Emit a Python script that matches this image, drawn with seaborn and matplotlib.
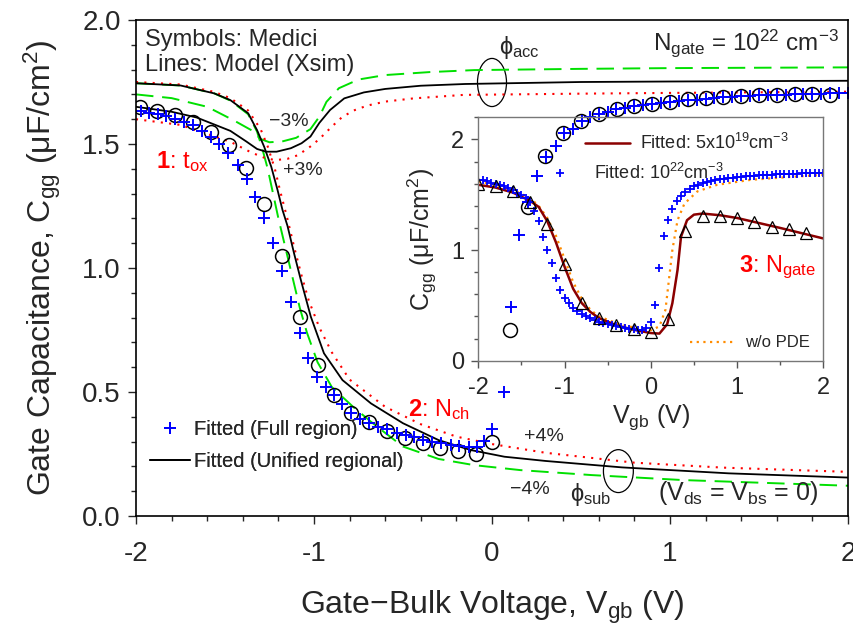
import numpy as np
import pandas as pd
import matplotlib
matplotlib.use("Agg")
import matplotlib.pyplot as plt
from matplotlib.lines import Line2D
from matplotlib.patches import Ellipse
from matplotlib.ticker import MultipleLocator, FormatStrFormatter
import seaborn as sns

# ---------------- main plot data ----------------
# Medici symbols (circles)
circ_x = [-1.98, -1.88, -1.78, -1.68, -1.58, -1.48, -1.38, -1.28, -1.18, -1.08, -0.98,
          -0.89, -0.79, -0.69, -0.59, -0.49, -0.39, -0.29, -0.19, -0.09, 0.00,
          0.10, 0.20, 0.30, 0.40, 0.50, 0.60, 0.70, 0.80, 0.90, 1.00,
          1.10, 1.20, 1.30, 1.40, 1.50, 1.60, 1.70, 1.80, 1.90]
circ_y = [1.651, 1.634, 1.617, 1.590, 1.550, 1.496, 1.402, 1.258, 1.050, 0.801, 0.609,
          0.488, 0.417, 0.380, 0.344, 0.313, 0.296, 0.273, 0.263, 0.250, 0.300,
          0.750, 1.247, 1.452, 1.543, 1.591, 1.621, 1.641, 1.652, 1.663, 1.668,
          1.680, 1.684, 1.688, 1.692, 1.696, 1.698, 1.700, 1.700, 1.698]

# Fitted (Full region) pluses
plus_x = [-1.97, -1.925, -1.878, -1.832, -1.781, -1.729, -1.682, -1.631, -1.579, -1.533,
          -1.482, -1.429, -1.379, -1.331, -1.280, -1.230, -1.181, -1.130, -1.080, -1.031,
          -0.985, -0.934, -0.887, -0.840, -0.794, -0.742, -0.691, -0.641, -0.588, -0.536,
          -0.485, -0.439, -0.386, -0.335, -0.285, -0.233, -0.186, -0.130, -0.083, -0.046,
          0.001, 0.065, 0.104, 0.154, 0.205, 0.255, 0.305, 0.360, 0.407, 0.456,
          0.504, 0.553, 0.601, 0.650, 0.698, 0.75, 0.80, 0.85, 0.90, 0.95,
          1.00, 1.05, 1.10, 1.15, 1.20, 1.25, 1.30, 1.35, 1.40, 1.45,
          1.50, 1.55, 1.60, 1.65, 1.70, 1.75, 1.80, 1.85, 1.90, 1.95, 2.00]
plus_y = [1.634, 1.626, 1.621, 1.613, 1.600, 1.590, 1.577, 1.554, 1.527, 1.499,
          1.462, 1.415, 1.358, 1.285, 1.200, 1.100, 0.988, 0.864, 0.737, 0.638,
          0.562, 0.521, 0.488, 0.452, 0.417, 0.390, 0.374, 0.360, 0.350, 0.336,
          0.327, 0.318, 0.307, 0.300, 0.293, 0.286, 0.282, 0.279, 0.279, 0.303,
          0.349, 0.500, 0.843, 1.133, 1.267, 1.371, 1.449, 1.493, 1.543, 1.559,
          1.591, 1.608, 1.621, 1.630, 1.641, 1.646, 1.652, 1.657, 1.662, 1.665,
          1.668, 1.672, 1.676, 1.679, 1.682, 1.685, 1.688, 1.690, 1.692, 1.694,
          1.696, 1.697, 1.698, 1.699, 1.700, 1.701, 1.702, 1.703, 1.704, 1.705, 1.706]

# Model lines, t_ox family (upper curves)
tox_m3_x = [-2.0, -1.8, -1.6, -1.45, -1.35, -1.3, -1.25, -1.18, -1.1, -1.02, -0.97, -0.93,
            -0.86, -0.75, -0.6, -0.35, -0.1, 0.5, 1.0, 2.0]
tox_m3_y = [1.70, 1.685, 1.65, 1.595, 1.555, 1.52, 1.507, 1.51, 1.525, 1.56, 1.61, 1.67,
            1.725, 1.76, 1.778, 1.79, 1.798, 1.803, 1.806, 1.809]
tox_0_x = [-2.0, -1.8, -1.66, -1.47, -1.38, -1.32, -1.27, -1.21, -1.13, -1.07, -1.02, -0.97,
           -0.91, -0.83, -0.72, -0.6, -0.4, -0.15, 0.5, 1.0, 2.0]
tox_0_y = [1.65, 1.63, 1.607, 1.553, 1.51, 1.48, 1.469, 1.469, 1.483, 1.503, 1.53, 1.585,
           1.637, 1.684, 1.708, 1.722, 1.735, 1.742, 1.75, 1.752, 1.755]
tox_p3_x = [-2.0, -1.75, -1.47, -1.35, -1.28, -1.22, -1.15, -1.09, -1.02, -0.97, -0.9,
            -0.84, -0.77, -0.7, -0.6, -0.44, -0.16, 0.5, 1.0, 2.0]
tox_p3_y = [1.60, 1.577, 1.509, 1.465, 1.445, 1.435, 1.44, 1.455, 1.49, 1.52, 1.57,
            1.61, 1.637, 1.655, 1.671, 1.684, 1.698, 1.703, 1.706, 1.711]

# Model lines, N_ch family (lower curves)
nch_0_x = [-2.0, -1.75, -1.56, -1.47, -1.37, -1.32, -1.28, -1.24, -1.205, -1.177, -1.149,
           -1.112, -1.074, -1.018, -0.944, -0.84, -0.68, -0.5, -0.3, -0.12, 0.07, 0.3,
           0.73, 1.33, 2.0]
nch_0_y = [1.745, 1.736, 1.704, 1.677, 1.624, 1.556, 1.489, 1.408, 1.315, 1.234, 1.17,
           1.059, 0.952, 0.804, 0.656, 0.548, 0.454, 0.374, 0.306, 0.266, 0.239, 0.222,
           0.196, 0.172, 0.155]
nch_m4_x = [-2.0, -1.75, -1.56, -1.47, -1.37, -1.32, -1.29, -1.26, -1.23, -1.2, -1.16,
            -1.12, -1.08, -1.04, -0.98, -0.9, -0.78, -0.68, -0.6, -0.5, -0.3, -0.1,
            0.16, 0.56, 1.07, 2.0]
nch_m4_y = [1.745, 1.736, 1.704, 1.675, 1.62, 1.55, 1.48, 1.40, 1.30, 1.20, 1.08,
            0.96, 0.84, 0.74, 0.62, 0.52, 0.44, 0.38, 0.335, 0.28, 0.23, 0.205,
            0.185, 0.165, 0.145, 0.122]
nch_p4_x = [-2.0, -1.75, -1.56, -1.47, -1.37, -1.3, -1.26, -1.22, -1.19, -1.15, -1.11,
            -1.07, -1.03, -0.97, -0.9, -0.8, -0.6, -0.4, -0.2, 0.0, 0.3, 0.8, 1.3, 2.0]
nch_p4_y = [1.75, 1.74, 1.71, 1.685, 1.635, 1.56, 1.49, 1.40, 1.31, 1.20, 1.08,
            0.97, 0.87, 0.76, 0.66, 0.55, 0.44, 0.37, 0.32, 0.29, 0.255, 0.215, 0.195, 0.178]

# ---------------- inset data ----------------
tri_x = [-2.0, -1.8, -1.6, -1.4, -1.2, -1.0, -0.8, -0.6, -0.4, -0.2,
         0.0, 0.2, 0.4, 0.6, 0.8, 1.0, 1.2, 1.4, 1.6, 1.8]
tri_y = [1.60, 1.575, 1.53, 1.43, 1.24, 0.87, 0.52, 0.385, 0.32, 0.285,
         0.255, 0.375, 1.17, 1.31, 1.31, 1.29, 1.25, 1.21, 1.19, 1.15]

fit19_x = [-2.0, -1.8, -1.6, -1.4, -1.3, -1.2, -1.1, -1.0, -0.9, -0.8, -0.7, -0.6, -0.4,
           -0.2, 0.0, 0.1, 0.19, 0.25, 0.31, 0.35, 0.42, 0.5, 0.6, 0.8, 1.0, 1.5, 2.0]
fit19_y = [1.59, 1.565, 1.52, 1.445, 1.39, 1.26, 1.07, 0.85, 0.65, 0.52, 0.44, 0.385, 0.32,
           0.28, 0.25, 0.245, 0.33, 0.52, 0.82, 1.12, 1.27, 1.32, 1.33, 1.315, 1.29, 1.20, 1.105]

nopde_x = [-2.0, -1.8, -1.6, -1.4, -1.3, -1.2, -1.1, -1.0, -0.9, -0.8, -0.7, -0.6, -0.4,
           -0.2, 0.0, 0.1, 0.17, 0.21, 0.25, 0.31, 0.39, 0.54, 0.77, 1.16, 1.6, 2.0]
nopde_y = [1.62, 1.59, 1.545, 1.47, 1.40, 1.29, 1.13, 0.92, 0.71, 0.56, 0.46, 0.40, 0.34,
           0.30, 0.275, 0.31, 0.46, 0.73, 1.0, 1.27, 1.42, 1.53, 1.59, 1.635, 1.66, 1.68]

fit22_x = [-2.00, -1.95, -1.90, -1.85, -1.80, -1.75, -1.70, -1.65, -1.60, -1.55,
           -1.50, -1.45, -1.40, -1.35, -1.30, -1.25, -1.20, -1.15, -1.10, -1.05,
           -1.00, -0.95, -0.90, -0.85, -0.80, -0.75, -0.70, -0.65, -0.60, -0.55,
           -0.50, -0.45, -0.40, -0.35, -0.30, -0.25, -0.20, -0.15, -0.10, -0.05,
           0.00, 0.05, 0.10, 0.15, 0.20, 0.25, 0.30, 0.35, 0.40, 0.45,
           0.50, 0.55, 0.60, 0.65, 0.70, 0.75, 0.80, 0.85, 0.90, 0.95,
           1.00, 1.05, 1.10, 1.15, 1.20, 1.25, 1.30, 1.35, 1.40, 1.45,
           1.50, 1.55, 1.60, 1.65, 1.70, 1.75, 1.80, 1.85, 1.90, 1.95, 2.00]
fit22_y = [1.635, 1.63, 1.62, 1.61, 1.60, 1.59, 1.575, 1.56, 1.545, 1.52,
           1.50, 1.47, 1.43, 1.35, 1.26, 1.12, 1.00, 0.88, 0.75, 0.64,
           0.57, 0.52, 0.48, 0.45, 0.425, 0.405, 0.385, 0.365, 0.35, 0.34,
           0.33, 0.32, 0.31, 0.305, 0.30, 0.29, 0.285, 0.28, 0.278, 0.30,
           0.35, 0.50, 0.84, 1.13, 1.27, 1.37, 1.44, 1.49, 1.525, 1.555,
           1.575, 1.59, 1.605, 1.615, 1.625, 1.632, 1.64, 1.645, 1.65, 1.655,
           1.66, 1.663, 1.666, 1.669, 1.672, 1.675, 1.677, 1.679, 1.681, 1.683,
           1.685, 1.687, 1.689, 1.69, 1.692, 1.693, 1.695, 1.696, 1.697, 1.698, 1.70]

# ---------------- styling ----------------
sns.set_theme(style="ticks")
plt.rcParams["font.family"] = ["Liberation Sans", "DejaVu Sans"]
plt.rcParams["mathtext.fontset"] = "custom"
plt.rcParams["mathtext.rm"] = "Liberation Sans"
plt.rcParams["mathtext.it"] = "Liberation Sans:italic"
plt.rcParams["mathtext.bf"] = "Liberation Sans:bold"
plt.rcParams["mathtext.default"] = "regular"
plt.rcParams["axes.unicode_minus"] = False

GREEN = "#00e000"
RED = "#ff0000"
BLUE = "#0000ff"
DRED = "#8b0000"
ORANGE = "#ff8c00"

fig = plt.figure(figsize=(8.54, 6.29), dpi=100)
ax = fig.add_axes([136 / 854, 1 - 516 / 629, 712 / 854, 496 / 629])


def draw_line(axis, x, y, **kw):
    sns.lineplot(x=x, y=y, ax=axis, sort=False, estimator=None, **kw)


def draw_pts(axis, x, y, **kw):
    sns.lineplot(x=x, y=y, ax=axis, sort=False, estimator=None, linestyle="none", **kw)


dash = (0, (9, 4.5))
dot = (0, (1, 3))

for xs, ys in [(tox_m3_x, tox_m3_y), (nch_m4_x, nch_m4_y)]:
    draw_line(ax, xs, ys, color=GREEN, linestyle=dash, linewidth=1.4)
for xs, ys in [(tox_p3_x, tox_p3_y), (nch_p4_x, nch_p4_y)]:
    draw_line(ax, xs, ys, color=RED, linestyle=dot, linewidth=1.5)
for xs, ys in [(tox_0_x, tox_0_y), (nch_0_x, nch_0_y)]:
    draw_line(ax, xs, ys, color="black", linewidth=1.3)

draw_pts(ax, circ_x, circ_y, marker="o", markersize=10, markerfacecolor="none",
         markeredgecolor="black", markeredgewidth=1.1, color="black")
draw_pts(ax, plus_x, plus_y, marker="+", markersize=9, markeredgewidth=1.4,
         color=BLUE, markeredgecolor=BLUE)

ax.set_xlim(-2, 2)
ax.set_ylim(0, 2)
ax.xaxis.set_major_locator(MultipleLocator(1))
ax.xaxis.set_minor_locator(MultipleLocator(0.2))
ax.yaxis.set_major_locator(MultipleLocator(0.5))
ax.yaxis.set_minor_locator(MultipleLocator(0.1))
ax.yaxis.set_major_formatter(FormatStrFormatter("%.1f"))
ax.xaxis.set_major_formatter(FormatStrFormatter("%d"))
ax.tick_params(which="major", direction="out", length=6, width=1.0, labelsize=20, pad=5)
ax.tick_params(axis="x", which="major", pad=12)
ax.tick_params(which="minor", direction="out", length=3.5, width=1.0)
for s in ax.spines.values():
    s.set_linewidth(1.2)
    s.set_color("black")
ax.set_xlabel(r"Gate$-$Bulk Voltage, V$_{\mathrm{gb}}$ (V)", fontsize=23, labelpad=16)
ax.set_ylabel(r"Gate Capacitance, C$_{\mathrm{gg}}$ ($\mu$F/cm$^{2}$)", fontsize=23, labelpad=14)

# ellipses
ax.add_patch(Ellipse((0.0, 1.748), 0.163, 0.194, fill=False, edgecolor="black", linewidth=0.9))
ax.add_patch(Ellipse((0.71, 0.181), 0.168, 0.173, fill=False, edgecolor="black", linewidth=0.9))

# texts
ax.text(-1.95, 1.92, "Symbols: Medici", fontsize=17, ha="left", va="center")
ax.text(-1.95, 1.82, "Lines: Model (Xsim)", fontsize=17, ha="left", va="center")
ax.text(1.95, 1.905, r"N$_{\mathrm{gate}}$ = 10$^{22}$ cm$^{-3}$", fontsize=17.5, ha="right", va="center")
ax.text(0.04, 1.89, r"ϕ$_{\mathrm{acc}}$", fontsize=17, ha="left", va="center")
ax.text(-1.14, 1.59, "\u22123%", fontsize=14, ha="center", va="center")
ax.text(-1.06, 1.395, "+3%", fontsize=14, ha="center", va="center")
ax.text(-1.89, 1.43, r"$\mathbf{1}$: t$_{\mathrm{ox}}$", fontsize=17, color=RED, ha="left", va="center")
ax.text(-0.47, 0.43, r"$\mathbf{2}$: N$_{\mathrm{ch}}$", fontsize=17, color=RED, ha="left", va="center")
ax.text(0.29, 0.32, "+4%", fontsize=14, ha="center", va="center")
ax.text(0.21, 0.105, "\u22124%", fontsize=14, ha="center", va="center")
ax.text(0.44, 0.085, r"ϕ$_{\mathrm{sub}}$", fontsize=17, ha="left", va="center")
ax.text(0.93, 0.093, r"(V$_{\mathrm{ds}}$ = V$_{\mathrm{bs}}$ = 0)", fontsize=18, ha="left", va="center")

# main legend
h_plus = Line2D([], [], linestyle="none", marker="+", markersize=9, markeredgewidth=1.4, color=BLUE)
h_line = Line2D([], [], color="black", linewidth=1.3)
leg = ax.legend([h_plus, h_line], ["Fitted (Full region)", "Fitted (Unified regional)"],
                loc="upper left", bbox_to_anchor=(0.0197, 0.193), frameon=False,
                fontsize=14.5, handlelength=2.0, handletextpad=0.2, labelspacing=0.65,
                borderpad=0, borderaxespad=0)
ax.add_artist(leg)

# ---------------- inset ----------------
ax_in = fig.add_axes([478.3 / 854, 1 - 360.7 / 629, 345 / 854, 243.4 / 629])
ax_in.patch.set_alpha(0.0)

draw_line(ax_in, nopde_x, nopde_y, color=ORANGE, linestyle=(0, (1, 2)), linewidth=1.6)
draw_line(ax_in, fit19_x, fit19_y, color=DRED, linewidth=1.8)
draw_pts(ax_in, fit22_x, fit22_y, marker="+", markersize=5.5, markeredgewidth=1.3,
         color=BLUE, markeredgecolor=BLUE)
draw_pts(ax_in, tri_x, tri_y, marker="^", markersize=8.5, markerfacecolor="none",
         markeredgecolor="black", markeredgewidth=0.9, color="black")

ax_in.set_xlim(-2, 2)
ax_in.set_ylim(0, 2.2)
ax_in.xaxis.set_major_locator(MultipleLocator(1))
ax_in.xaxis.set_minor_locator(MultipleLocator(0.5))
ax_in.yaxis.set_major_locator(MultipleLocator(1))
ax_in.yaxis.set_minor_locator(MultipleLocator(0.2))
ax_in.xaxis.set_major_formatter(FormatStrFormatter("%d"))
ax_in.yaxis.set_major_formatter(FormatStrFormatter("%d"))
ax_in.tick_params(which="major", direction="out", length=5, width=1.0, labelsize=17,
                  color="#555555", pad=5)
ax_in.tick_params(axis="x", which="major", pad=7)
ax_in.tick_params(which="minor", direction="out", length=3, width=1.0, color="#555555")
for s in ax_in.spines.values():
    s.set_linewidth(1.0)
    s.set_color("#777777")
ax_in.set_xlabel(r"V$_{\mathrm{gb}}$ (V)", fontsize=18, labelpad=2)
ax_in.set_ylabel(r"C$_{\mathrm{gg}}$ ($\mu$F/cm$^{2}$)", fontsize=18, labelpad=9)
ax_in.text(1.02, 0.84, r"$\mathbf{3}$: N$_{\mathrm{gate}}$", fontsize=17, color=RED,
           ha="left", va="center")

lg1 = ax_in.legend([Line2D([], [], color=DRED, linewidth=1.8)],
                   [r"Fitted: 5x10$^{19}$cm$^{-3}$"], loc="center left",
                   bbox_to_anchor=(0.309, 0.895), frameon=False, fontsize=13,
                   handlelength=2.5, handletextpad=0.55, borderpad=0, borderaxespad=0)
ax_in.add_artist(lg1)
lg2 = ax_in.legend([Line2D([], [], linestyle="none", marker="+", markersize=5.5,
                           markeredgewidth=1.3, color=BLUE)],
                   [r"Fitted: 10$^{22}$cm$^{-3}$"], loc="center left",
                   bbox_to_anchor=(0.193, 0.77), frameon=False, fontsize=13,
                   handlelength=1.7, handletextpad=1.0, borderpad=0, borderaxespad=0)
ax_in.add_artist(lg2)
lg3 = ax_in.legend([Line2D([], [], color=ORANGE, linestyle=(0, (1, 2)), linewidth=1.6)],
                   ["w/o PDE"], loc="center left", bbox_to_anchor=(0.614, 0.073),
                   frameon=False, fontsize=12, handlelength=2.7, handletextpad=0.6,
                   borderpad=0, borderaxespad=0)

fig.savefig("out.png", dpi=100)
